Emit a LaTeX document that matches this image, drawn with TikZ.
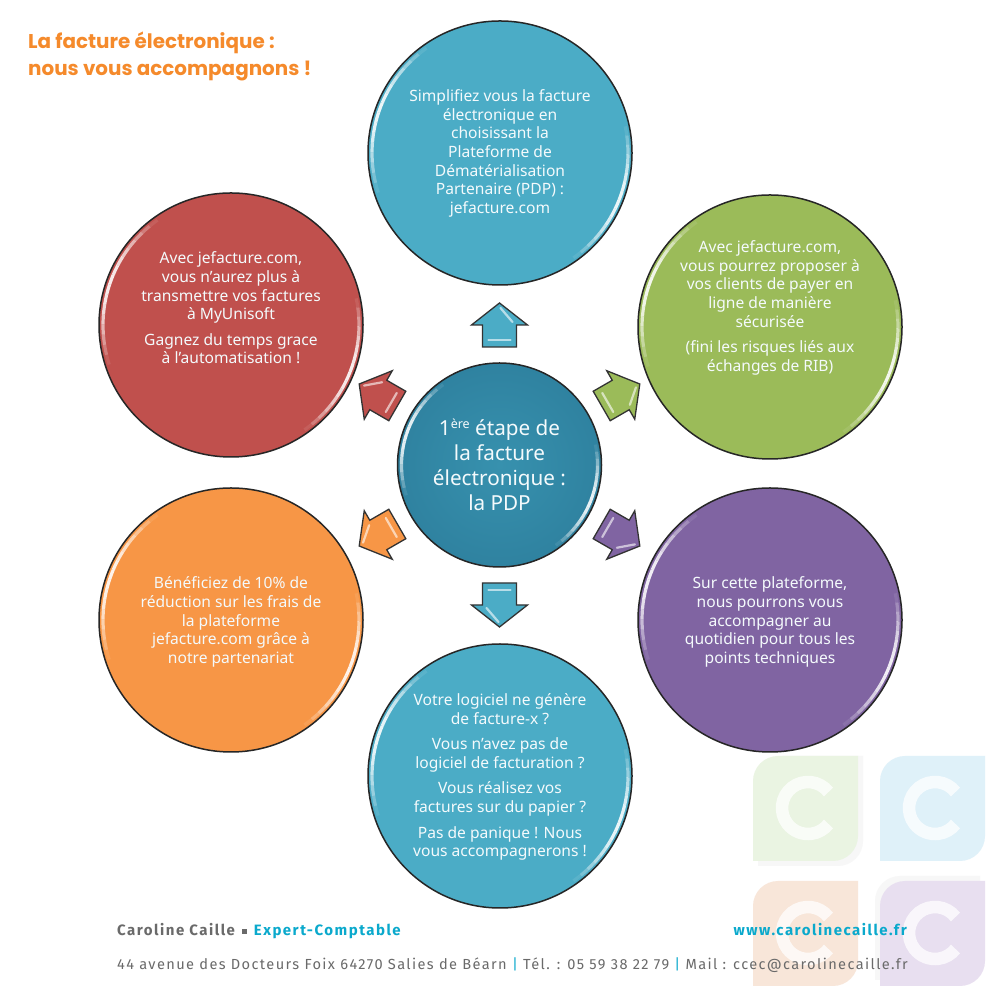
\documentclass[tikz,border=0pt]{standalone}
\usepackage{fontspec}
\usetikzlibrary{calc}
\setmainfont{Noto Sans}
\newfontfamily\titlefont{Poppins}
\newfontfamily\footfont[LetterSpace=10]{Fira Sans}
\newfontfamily\addrfont[LetterSpace=9.5]{Fira Sans}
\definecolor{cblue}{HTML}{4BACC6}
\definecolor{cgreen}{HTML}{9BBB59}
\definecolor{cpurple}{HTML}{8064A2}
\definecolor{corange}{HTML}{F79646}
\definecolor{cred}{HTML}{C0504D}
\definecolor{ccentre}{HTML}{2F82A0}
\definecolor{ccentrelight}{HTML}{3791AE}
\definecolor{ctitle}{HTML}{F58A2B}
\definecolor{fgrey}{HTML}{6A6A6A}
\definecolor{fblue}{HTML}{0AA9CC}
\definecolor{wgreen}{HTML}{EAF4E2}
\definecolor{wblue}{HTML}{DFF1F9}
\definecolor{worange}{HTML}{F8E6D9}
\definecolor{wpurple}{HTML}{E8DFF0}
\tikzset{
  disc/.style={circle,draw=black!85,line width=1.5pt,minimum size=#1,inner sep=0pt},
  bodytext/.style={text=white!94!cblue,align=center,inner sep=0pt,font=\fontsize{15.6}{18.6}\selectfont},
  centretext/.style={text=white!94!cblue,align=center,inner sep=0pt,font=\fontsize{20.7}{25}\selectfont},
  titletext/.style={text=ctitle,anchor=base west,inner sep=0pt,font=\titlefont\bfseries\fontsize{19.9}{20}\selectfont},
  foot/.style={text=fgrey,anchor=base west,inner sep=0pt,font=\addrfont\fontsize{14.6}{15}\selectfont},
  footb/.style={foot,font=\footfont\bfseries\fontsize{15}{15}\selectfont},
  arrowbody/.style={draw=black!80,line width=1.3pt,line join=miter},
  shine/.style={white,opacity=.6,line width=2.2pt,line cap=round},
}
% tapered glossy arc on a disc
\newcommand{\glossarc}[4]{% centre node, radius, from, to
  \foreach \k in {0,...,15}{
    \pgfmathsetmacro{\aa}{#3+(#4-#3)*\k/16}
    \pgfmathsetmacro{\bb}{#3+(#4-#3)*(\k+1)/16}
    \pgfmathsetmacro{\oo}{0.9*sin(180*(\k+.5)/16)}
    \draw[white,line width=3.2pt,opacity=\oo] ($(#1)+(\aa:#2)$) arc (\aa:\bb:#2);
  }}
\newcommand{\gloss}[2]{\glossarc{#1}{#2}{125}{198}\glossarc{#1}{#2}{12}{-55}}
% block arrow, pointing away from the centre disc
\newcommand{\blockarrow}[2]{%
  \begin{scope}[shift={(hub.center)},rotate=#1]
    \draw[arrowbody,fill=#2] (118,-17)--(140,-17)--(140,-28)--(162,0)--(140,28)--(140,17)--(118,17)--cycle;
    \draw[shine] (125,-11)--(125,11);
    \draw[shine] (157,-1)--(143,-13);
  \end{scope}}
\newcommand{\wmark}[3]{%
  \fill[#3] (#1,#2)--(#1+80,#2) arc (-90:0:25)--(#1+105,#2+105)--(#1+25,#2+105) arc (90:180:25)--cycle;
  \draw[white,line width=12.5pt,opacity=.75] (#1+55+26*cos 38,#2+53+26*sin 38) arc (38:322:26);
}
\begin{document}
\begin{tikzpicture}[x=1pt,y=1pt]
\useasboundingbox (0,0) rectangle (1000,1000);
\fill[white] (0,0) rectangle (1000,1000);
% watermark
\fill[black!3] (758,134)--(838,134) arc (-90:0:25)--(863,244)--(783,244) arc (90:180:25)--cycle;
\fill[black!3] (875,20)--(955,20) arc (-90:0:25)--(980,124)--(900,124) arc (90:180:25)--cycle;
\wmark{753}{139}{wgreen}
\wmark{880}{139}{wblue}
\wmark{753}{14}{worange}
\wmark{880}{14}{wpurple}
% discs
\node[disc=264pt,fill=cblue] (top) at (500,847) {};
\node[disc=264pt,fill=cgreen] (green) at (770,673) {};
\node[disc=264pt,fill=cpurple] (purple) at (770,380) {};
\node[disc=264pt,fill=cblue] (bottom) at (500,224) {};
\node[disc=264pt,fill=corange] (orange) at (231,380) {};
\node[disc=264pt,fill=cred] (red) at (231,675) {};
\node[disc=204pt,inner color=ccentrelight,outer color=ccentre] (hub) at (499.5,535) {};
\gloss{top}{128}\gloss{green}{128}\gloss{purple}{128}\gloss{bottom}{128}\gloss{orange}{128}\gloss{red}{128}\gloss{hub}{98}
% arrows
\blockarrow{90}{cblue}
\blockarrow{30}{cgreen}
\blockarrow{-30}{cpurple}
\blockarrow{-90}{cblue}
\blockarrow{210}{corange}
\blockarrow{150}{cred}
% texts
\node[bodytext] (ttop) at (500,846.5) {Simplifiez vous la facture\\électronique en\\choisissant la\\Plateforme de\\Dématérialisation\\Partenaire (PDP) :\\jefacture.com};
\node[bodytext] (tgreen) at (770,692) {Avec jefacture.com,\\vous pourrez proposer à\\vos clients de payer en\\ligne de manière\\sécurisée\\[7pt](fini les risques liés aux\\échanges de RIB)};
\node[bodytext] (tred) at (231,692) {Avec jefacture.com,\\vous n'aurez plus à\\transmettre vos factures\\à MyUnisoft\\[7pt]Gagnez du temps grace\\à l'automatisation !};
\node[bodytext] (torange) at (231,378) {Bénéficiez de 10\% de\\réduction sur les frais de\\la plateforme\\jefacture.com grâce à\\notre partenariat};
\node[bodytext] (tpurple) at (770,378) {Sur cette plateforme,\\nous pourrons vous\\accompagner au\\quotidien pour tous les\\points techniques};
\node[bodytext] (tbottom) at (500,223) {Votre logiciel ne génère\\de facture-x ?\\[7pt]Vous n'avez pas de\\logiciel de facturation ?\\[7pt]Vous réalisez vos\\factures sur du papier ?\\[7pt]Pas de panique ! Nous\\vous accompagnerons !};
\node[centretext] (thub) at (499.5,535.5) {1\raisebox{7pt}{\fontsize{12.5}{13}\selectfont ère} étape de\\la facture\\électronique :\\la PDP};
% title
\node[titletext] (title1) at (28,951) {La facture électronique :};
\node[titletext] (title2) at (28,924.5) {nous vous accompagnons !};
% footer
\node[footb] (f1) at (117,64) {Caroline Caille\hspace{7pt}\raisebox{2pt}{\rule{5pt}{5pt}}\hspace{7pt}\textcolor{fblue}{Expert-Comptable}};
\node[footb,text=fblue,anchor=base east] (f2) at (907,64) {www.carolinecaille.fr};
\node[foot] (f3) at (117,30) {44 avenue des Docteurs Foix 64270 Salies de Béarn \textcolor{fblue}{|} Tél. : 05 59 38 22 79 \textcolor{fblue}{|} Mail : ccec@carolinecaille.fr};
\end{tikzpicture}
\end{document}
